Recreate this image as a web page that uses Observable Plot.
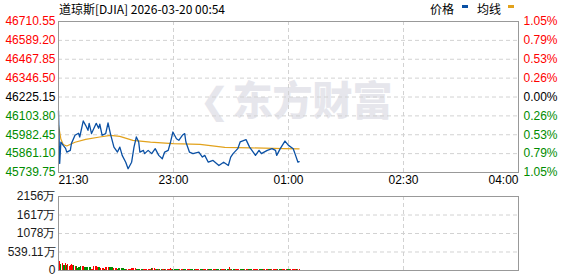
<!DOCTYPE html>
<html><head><meta charset="utf-8">
<script src="https://cdn.jsdelivr.net/npm/d3@7"></script>
<script src="https://cdn.jsdelivr.net/npm/@observablehq/plot@0.6"></script>
<style>
body{margin:0;background:#fff;}
#wrap{position:relative;width:578px;height:276px;overflow:hidden;background:#fff;}
#wrap svg{position:absolute;left:0;top:0;background:transparent;}
.hdr{position:absolute;top:0px;font:12px "Noto Sans CJK SC",sans-serif;white-space:nowrap;color:#000;line-height:18px;z-index:2;}
.sw{position:absolute;top:5px;width:6px;height:3px;z-index:2;}
</style></head><body><div id="wrap"></div>
<script>
const title = "道琼斯[DJIA] 2026-03-20 00:54";
const legendNames = ["价格", "均线"];
const xTickMin = [0, 97.5, 195, 292.5, 390];
const xTickLabels = ["21:30", "23:00", "01:00", "02:30", "04:00"];
const priceTicks = [46710.55, 46589.20, 46467.85, 46346.50, 46225.15, 46103.80, 45982.45, 45861.10, 45739.75];
const pctLabels = ["1.05%", "0.79%", "0.53%", "0.26%", "0.00%", "0.26%", "0.53%", "0.79%", "1.05%"];
const preClose = 46225.15;
const priceMin = [0,1,2,4,6,7,10,11,14,17,18,21,23,25,26,28,32,34,35,37,40,42,44,47,50,52,54,57,59,62,64,66,68,69,72,73,76,79,82,85,88,90,93,95,97,100,102,105,107,108,111,114,119,122,124,127,131,136,140,144,146,148,152,154,159,162,164,167,170,172,177,181,184,185,188,192,195,199,201,203,204];
const priceVal = [46136,45798,45935,45914,45895,45871,45882,45927,45979,45992,45968,46071,46043,46011,46056,45990,46056,46024,46050,45979,45990,46058,45990,45903,45871,45903,45850,45806,45764,45806,45903,45968,45936,45871,45882,45861,45882,45861,45893,45850,45828,45871,45882,45936,46000,45957,45947,45979,45990,45936,45871,45861,45871,45839,45850,45806,45817,45785,45806,45785,45839,45861,45893,45936,45951,45903,45882,45850,45882,45861,45882,45893,45882,45850,45893,45942,45914,45893,45850,45806,45810];
const avgMin = [0,2,4,7,14,23,35,44,52,63,78,97,120,141,163,191,204];
const avgVal = [46044,45955,45920,45910,45934,45953,45968,45979,45972,45946,45935,45925,45921,45901,45898,45893,45892];
const volVal = [1990,265,167,196,147,150,196,147,167,127,
147,167,160,147,127,127,45,98,98,118,
118,118,98,98,98,88,88,88,40,40,
127,118,118,78,78,78,69,69,69,40,
88,88,88,78,78,98,98,49,49,49,
35,49,49,49,49,49,39,39,39,39,
39,39,59,59,59,59,30,29,29,29,
29,29,29,29,29,29,29,29,25,59,
59,59,29,29,29,29,29,29,29,25,
39,39,39,39,39,59,25,29,29,29,
29,29,25,24,26,25,22,28,25,24,
26,25,23,27,25,24,26,25,22,28,
25,24,26,25,23,27,25,24,26,25,
22,28,25,24,26,25,23,27,25,24,
26,25,22,28,25,90,40,25,24,26,
25,23,27,25,24,26,25,22,28,25,
24,26,25,23,27,25,24,26,25,22,
28,25,24,26,25,23,27,25,24,26,
25,22,28,25,24,26,25,23,27,25,
24,26,25,22,28,25,24,26,25,23,
27,25,24,26,25];
const volDir = "grgrggrgrr" + "rrrgrggggg" + "rrggggggrr" + "rrrrggrrrg" + "rrrggggrrr" +
  "ggggggggrr" + "rrrrrrgggg" + "ggrrrrrrrg" + "rrrggrggrr" + "grrrrrrggg" +
  "gggrrrgggr" + "rrggggrrrr" + "gggrrrrggg" + "grrrggggrr" + "rrgggrrggg" +
  "rrrrggggrr" + "rggggrrrrr" + "ggggrrrrgg" + "grrrrrgggg" + "rrrrgggrrr" + "rrgrr";
const volTicks = [2156, 1617, 1078, 539.11, 0];
const volTickLabels = ["2156万", "1617万", "1078万", "539.11万", "0"];
const watermark = "东方财富";

const RED = "#ff0000", GREEN = "#008c00", BLUE = "#0a50a4", ORANGE = "#e2a21c";
const GRID = "#d2d2d2", FRAME = "#999999";
const W = 578, H = 276;
const font = {fontFamily: "'Liberation Sans', Arial, sans-serif", fontSize: "12px", background: "transparent", overflow: "visible"};
const colorOf = v => v > preClose + 0.001 ? RED : v < preClose - 0.001 ? GREEN : "#000";

const price = priceMin.map((m, i) => ({m, v: priceVal[i]}));
const avg = avgMin.map((m, i) => ({m, v: avgVal[i]}));
const vol = volVal.map((v, i) => ({m: i, v, c: volDir[i] === "r" ? RED : GREEN}));

const xScale = {domain: [0, 390]};
const p1 = Plot.plot({
  width: W, height: H, marginLeft: 58, marginRight: 60, marginTop: 21, marginBottom: 104,
  style: font,
  x: {...xScale, axis: null},
  y: {domain: [45739.75, 46710.55], axis: null},
  color: {type: "identity"},
  marks: [
    Plot.text([watermark], {frameAnchor: "middle", dx: 24, dy: 5, fontSize: 40, fontWeight: 900, fill: "#e6e6ec", fontFamily: "'Noto Sans CJK SC'"}),
    Plot.text(["❮"], {frameAnchor: "middle", dx: -74, dy: 4, fontSize: 36, fontWeight: 900, fill: "#e6e6ec", fontFamily: "'DejaVu Sans'"}),
    Plot.ruleY(priceTicks.slice(1, -1), {stroke: GRID, strokeDasharray: "4,3"}),
    Plot.ruleX(xTickMin.slice(1, -1), {stroke: GRID, strokeDasharray: "4,3"}),
    Plot.line(avg, {x: "m", y: "v", stroke: ORANGE, strokeWidth: 1.2}),
    Plot.line(price, {x: "m", y: "v", stroke: BLUE, strokeWidth: 1.3}),
    Plot.frame({stroke: FRAME}),
    Plot.text(priceTicks, {y: d => d, frameAnchor: "left", textAnchor: "end", dx: -3, fill: colorOf, text: d => d.toFixed(2)}),
    Plot.text(priceTicks, {y: d => d, frameAnchor: "right", textAnchor: "start", dx: 5, fill: colorOf, text: (d, i) => pctLabels[i]}),
    Plot.text([0], {x: d => xTickMin[d], frameAnchor: "bottom", dy: 11, textAnchor: "start", text: d => xTickLabels[d], fill: "#000"}),
    Plot.text([1, 2, 3], {x: d => xTickMin[d], frameAnchor: "bottom", dy: 11, textAnchor: "middle", text: d => xTickLabels[d], fill: "#000"}),
    Plot.text([4], {x: d => xTickMin[d], frameAnchor: "bottom", dy: 11, textAnchor: "end", text: d => xTickLabels[d], fill: "#000"})
  ]
});

const p2 = Plot.plot({
  width: W, height: H, marginLeft: 58, marginRight: 60, marginTop: 196, marginBottom: 6,
  style: font,
  x: {...xScale, axis: null},
  y: {domain: [0, 2156], axis: null},
  color: {type: "identity"},
  marks: [
    Plot.ruleY(volTicks.slice(1, -1), {stroke: GRID, strokeDasharray: "4,3"}),
    Plot.ruleX(xTickMin.slice(1, -1), {stroke: GRID, strokeDasharray: "4,3"}),
    Plot.rect(vol, {x1: "m", x2: d => d.m + 0.85, y1: 0, y2: "v", fill: "c", shapeRendering: "crispEdges"}),
    Plot.frame({stroke: FRAME}),
    Plot.text(volTicks, {y: d => d, frameAnchor: "left", textAnchor: "end", dx: -3, fill: "#1a1a1a", text: (d, i) => volTickLabels[i]})
  ]
});

const wrap = document.getElementById("wrap");
wrap.appendChild(p1);
wrap.appendChild(p2);

function addDiv(cls, text, left, bg) {
  const d = document.createElement("div");
  d.className = cls;
  d.style.left = left + "px";
  if (text) d.textContent = text;
  if (bg) d.style.background = bg;
  wrap.appendChild(d);
}
addDiv("hdr", title, 59);
addDiv("hdr", legendNames[0], 430);
addDiv("sw", null, 462, BLUE);
addDiv("hdr", legendNames[1], 477);
addDiv("sw", null, 508, ORANGE);
</script></body></html>
